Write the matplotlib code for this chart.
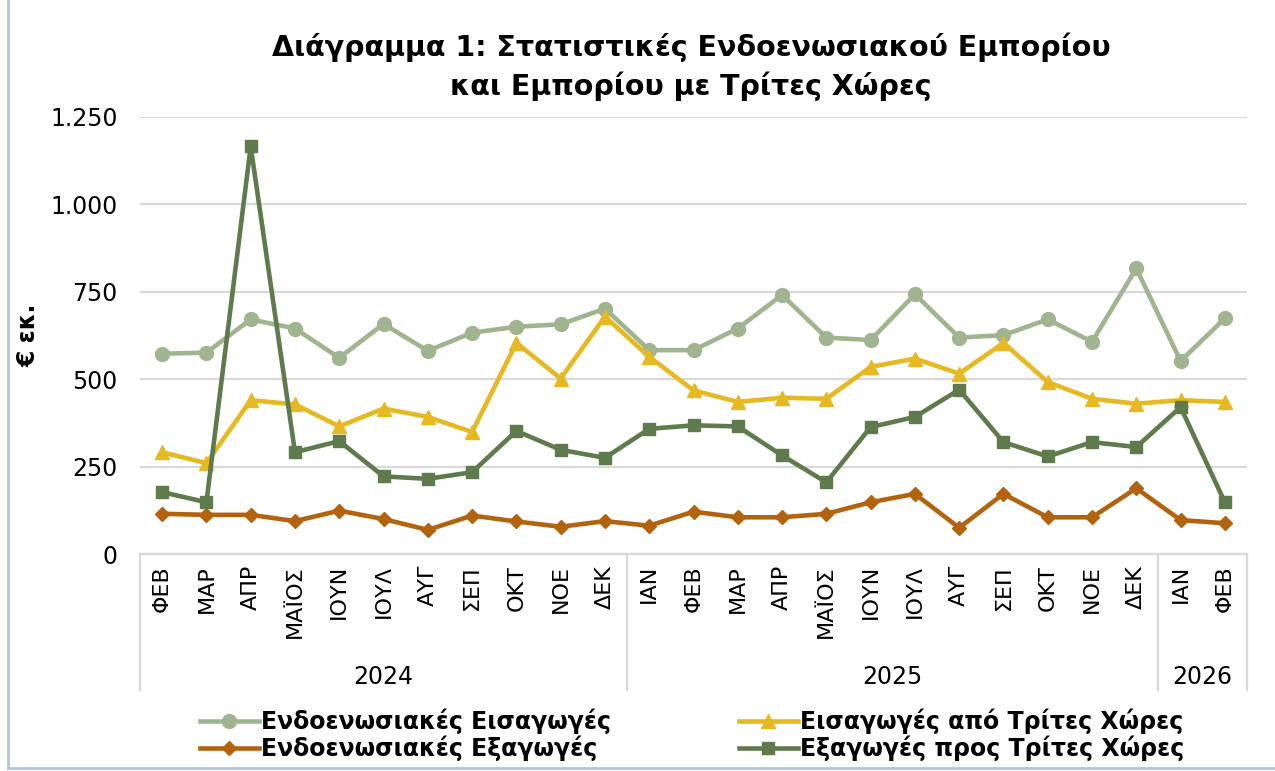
import matplotlib
matplotlib.use("Agg")
import matplotlib.pyplot as plt
from matplotlib.ticker import FuncFormatter
from matplotlib.lines import Line2D

plt.rcParams['font.family'] = ['DejaVu Sans']

# months Feb 2024 .. Feb 2026
months = ['ΦΕΒ', 'ΜΑΡ', 'ΑΠΡ', 'ΜΑΪΟΣ', 'ΙΟΥΝ', 'ΙΟΥΛ', 'ΑΥΓ', 'ΣΕΠ', 'ΟΚΤ', 'ΝΟΕ', 'ΔΕΚ',
          'ΙΑΝ', 'ΦΕΒ', 'ΜΑΡ', 'ΑΠΡ', 'ΜΑΪΟΣ', 'ΙΟΥΝ', 'ΙΟΥΛ', 'ΑΥΓ', 'ΣΕΠ', 'ΟΚΤ', 'ΝΟΕ', 'ΔΕΚ',
          'ΙΑΝ', 'ΦΕΒ']
years = ['2024', '2025', '2026']
year_counts = [11, 12, 2]

eu_imports = [573, 576, 671, 645, 561, 658, 581, 633, 650, 657, 702,
              583, 583, 645, 741, 619, 612, 743, 619, 626, 671, 607, 817,
              552, 674]
third_imports = [291, 260, 440, 428, 365, 416, 392, 349, 604, 502, 679,
                 564, 468, 435, 447, 444, 535, 559, 516, 604, 492, 444, 430,
                 440, 435]
eu_exports = [115, 112, 112, 94, 124, 100, 69, 110, 93, 78, 94,
              81, 121, 105, 105, 115, 148, 172, 75, 172, 105, 105, 188,
              97, 88]
third_exports = [177, 148, 1166, 291, 323, 222, 215, 234, 352, 298, 275,
                 358, 368, 365, 282, 205, 363, 392, 470, 320, 279, 320, 306,
                 420, 148]

c_eu_imp = '#A0B58F'
c_th_imp = '#E6B822'
c_eu_exp = '#B3630E'
c_th_exp = '#5F7A4C'
grid_c = '#D9D9D9'

W, H = 1275, 771
fig = plt.figure(figsize=(W / 100, H / 100), dpi=100)
ax = fig.add_axes([140 / W, (H - 554) / H, (1247 - 140) / W, (554 - 117) / H])

x = list(range(len(months)))
lw = 3.3
l1, = ax.plot(x, eu_imports, color=c_eu_imp, lw=lw, marker='o', ms=10, label='Ενδοενωσιακές Εισαγωγές')
l2, = ax.plot(x, third_imports, color=c_th_imp, lw=lw, marker='^', ms=10, label='Εισαγωγές από Τρίτες Χώρες')
l3, = ax.plot(x, eu_exports, color=c_eu_exp, lw=lw, marker='D', ms=7, label='Ενδοενωσιακές Εξαγωγές')
l4, = ax.plot(x, third_exports, color=c_th_exp, lw=lw, marker='s', ms=9, label='Εξαγωγές προς Τρίτες Χώρες')

ax.set_xlim(-0.5, len(months) - 0.5)
ax.set_ylim(0, 1250)
ax.set_yticks([0, 250, 500, 750, 1000, 1250])
ax.yaxis.set_major_formatter(FuncFormatter(lambda v, p: f"{v:,.0f}".replace(",", ".")))
ax.grid(axis='y', color=grid_c, lw=1.6)
ax.set_axisbelow(True)
for s in ['top', 'right', 'left']:
    ax.spines[s].set_visible(False)
ax.spines['bottom'].set_color(grid_c)
ax.spines['bottom'].set_linewidth(1.6)
ax.tick_params(axis='y', length=0, pad=16, labelsize=17, colors='#000000')
ax.set_xticks(x)
ax.set_xticklabels(months, rotation=90, fontsize=16)
ax.tick_params(axis='x', length=0, pad=8)

# year grouping
trans = ax.get_xaxis_transform()
sep_bottom = (554 - 690) / (554 - 117)
edge = -0.5
for yr, n in zip(years, year_counts):
    ax.plot([edge, edge], [0, sep_bottom], transform=trans, color=grid_c, lw=1.6, clip_on=False)
    ax.text(edge + n / 2, (554 - 677) / (554 - 117), yr, transform=trans,
            ha='center', va='center', fontsize=17)
    edge += n
ax.plot([edge, edge], [0, sep_bottom], transform=trans, color=grid_c, lw=1.6, clip_on=False)

ax.set_ylabel('€ εκ.', fontsize=17, fontweight='bold')
ax.yaxis.set_label_coords((41 - 140) / (1247 - 140), (554 - 335) / (554 - 117))

fig.text(691 / W, 1 - 67 / H, 'Διάγραμμα 1: Στατιστικές Ενδοενωσιακού Εμπορίου\nκαι Εμπορίου με Τρίτες Χώρες',
         ha='center', va='center', fontsize=20.5, fontweight='bold', linespacing=1.42)

fig.legend([l1, l3, l2, l4], [l.get_label() for l in [l1, l3, l2, l4]],
           loc='center', bbox_to_anchor=(692 / W, 1 - 735 / H), ncol=2, frameon=False,
           prop={'size': 17, 'weight': 'bold'}, handlelength=2.5, handletextpad=0.1,
           columnspacing=5.4, labelspacing=0.05, borderpad=0)

# chart border (left and bottom visible in the reference)
fig.add_artist(Line2D([8 / W, 8 / W], [3 / H, 1], color='#A9C6E8', lw=2))
fig.add_artist(Line2D([8 / W, 1], [3 / H, 3 / H], color='#A9C6E8', lw=2))

fig.savefig('out.png', dpi=100)
